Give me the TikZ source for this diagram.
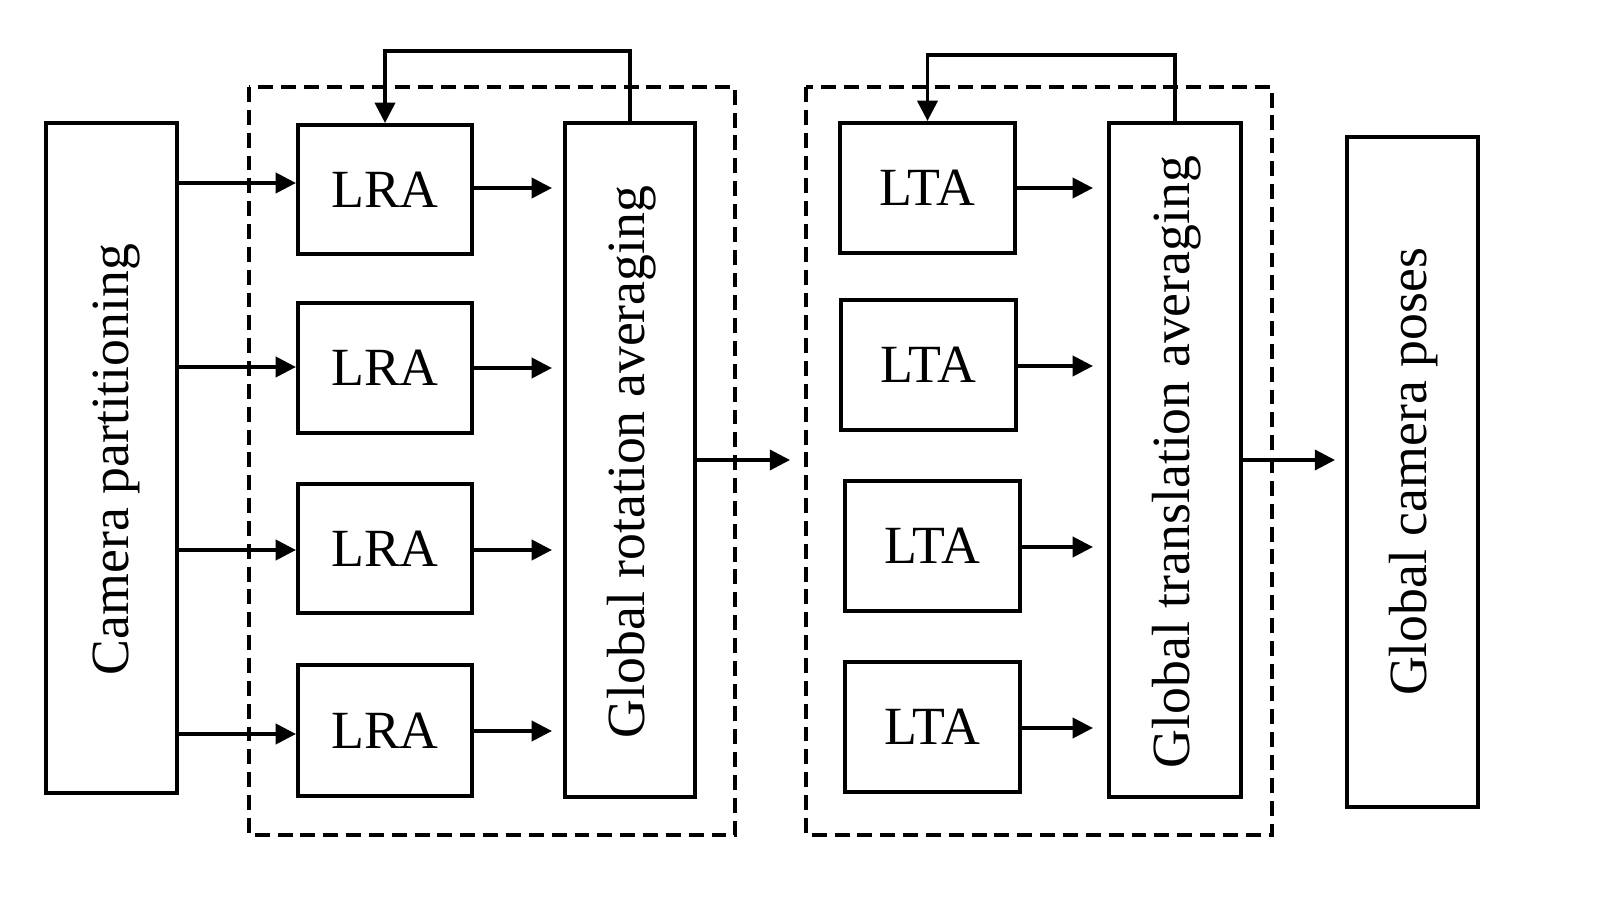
\documentclass[tikz,border=0pt]{standalone}
\usepackage{fontspec}
\setmainfont{Liberation Serif}
\usetikzlibrary{arrows.meta}
\begin{document}
\begin{tikzpicture}[x=0.02cm,y=-0.02cm,
  box/.style={draw, line width=2.4pt, inner sep=0pt},
  lbl/.style={font=\fontsize{30.6}{36}\selectfont, inner sep=0pt},
  vlbl/.style={lbl, rotate=90},
  arr/.style={line width=1.8pt, -{Triangle[length=11.5pt,width=11.5pt]}},
  dashbox/.style={line width=2.4pt, dash pattern=on 8.5pt off 4.5pt}]
\useasboundingbox (0,0) rectangle (1600,902);
% dashed groups
\draw[dashbox] (249,87) rectangle (735,835);
\draw[dashbox] (806,87) rectangle (1272,835);
% big boxes
\node[box, minimum width=2.62cm, minimum height=13.4cm] (cp) at (111.5,458) {};
\node[vlbl] (cpt) at (117,459.5) {Camera partitioning};
\node[box, minimum width=2.6cm, minimum height=13.48cm] (gra) at (630,460) {};
\node[vlbl] (grat) at (632,462) {Global rotation averaging};
\node[box, minimum width=2.64cm, minimum height=13.48cm] (gta) at (1175,460) {};
\node[vlbl] (gtat) at (1177,462) {Global translation averaging};
\node[box, minimum width=2.62cm, minimum height=13.4cm] (gcp) at (1412.5,472) {};
\node[vlbl] (gcpt) at (1414,472) {Global camera poses};
% LRA boxes
\node[box, lbl, minimum width=3.48cm, minimum height=2.58cm] (lra1) at (385,189.5) {LRA};
\node[box, lbl, minimum width=3.48cm, minimum height=2.6cm] (lra2) at (385,368) {LRA};
\node[box, lbl, minimum width=3.48cm, minimum height=2.58cm] (lra3) at (385,548.5) {LRA};
\node[box, lbl, minimum width=3.48cm, minimum height=2.62cm] (lra4) at (385,730.5) {LRA};
% LTA boxes
\node[box, lbl, minimum width=3.5cm, minimum height=2.6cm] (lta1) at (927.5,188) {LTA};
\node[box, lbl, minimum width=3.5cm, minimum height=2.6cm] (lta2) at (928.5,365) {LTA};
\node[box, lbl, minimum width=3.5cm, minimum height=2.6cm] (lta3) at (932.5,546) {LTA};
\node[box, lbl, minimum width=3.5cm, minimum height=2.6cm] (lta4) at (932.5,727) {LTA};
% free ends
\coordinate (fb1) at (630,51);
\coordinate (fb2) at (1175,55);
\coordinate (o1) at (790,460);
\coordinate (o2) at (1335,460);
% camera -> LRA
\foreach \i/\y in {1/183,2/367,3/550,4/734}{
  \draw[arr] (cp.east |- 0,\y) -- (lra\i.west |- 0,\y);
}
% LRA -> GRA
\foreach \i/\y in {1/188,2/368,3/550,4/731}{
  \draw[arr] (lra\i.east |- 0,\y) -- ([xshift=-0.22cm]gra.west |- 0,\y);
}
% LTA -> GTA
\foreach \i/\y in {1/188,2/366,3/547,4/728}{
  \draw[arr] (lta\i.east |- 0,\y) -- ([xshift=-0.28cm]gta.west |- 0,\y);
}
% feedback loops
\draw[arr] (gra.north) -- (fb1) -| (lra1.north);
\draw[arr] (gta.north) -- (fb2) -| (lta1.north);
% outputs
\draw[arr] (gra.east) -- (o1);
\draw[arr] (gta.east) -- (o2);
\end{tikzpicture}
\end{document}
